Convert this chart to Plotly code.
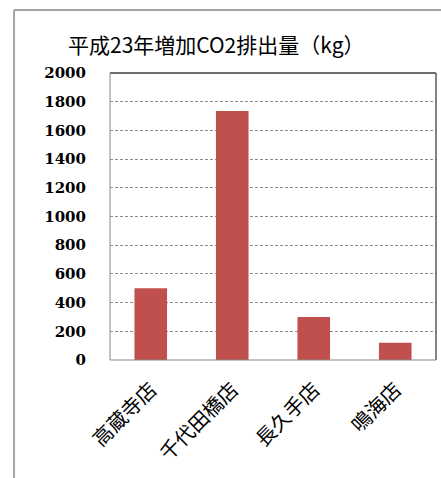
import plotly.graph_objects as go

categories = ["高蔵寺店", "千代田橋店", "長久手店", "鳴海店"]
values = [500, 1735, 300, 120]
y_ticks = [0, 200, 400, 600, 800, 1000, 1200, 1400, 1600, 1800, 2000]
title_text = "平成23年増加CO2排出量（kg）"

W, H = 441, 478
L, R, T, B = 110, 5, 73, 118
pw, ph = W - L - R, H - T - B

def px_x(x):
    return (x - L) / pw

def px_y(y):
    return (H - B - y) / ph

fig = go.Figure()
fig.add_trace(go.Bar(
    x=categories, y=values,
    marker=dict(color="#C0504D", line=dict(width=0)),
    width=0.4,
))

fig.update_layout(
    width=W, height=H,
    margin=dict(l=L, r=R, t=T, b=B),
    paper_bgcolor="white", plot_bgcolor="white",
    showlegend=False,
    xaxis=dict(
        tickangle=-45, tickfont=dict(size=20, color="#000000", family="Noto Sans CJK JP, sans-serif"),
        showgrid=False, zeroline=False, showline=False, ticks="", ticklabelstandoff=13,
    ),
    yaxis=dict(
        range=[0, 2000], tickvals=y_ticks,
        ticktext=["<b>%d</b>" % v for v in y_ticks],
        tickfont=dict(size=15, color="#000", family="DejaVu Serif, serif"),
        showgrid=True, gridcolor="#8c8c8c", griddash="3px,2px", gridwidth=1,
        zeroline=False, showline=False, ticks="", ticklabelstandoff=23,
    ),
    annotations=[dict(
        text=title_text, xref="paper", yref="paper",
        x=px_x(66), y=px_y(44), xanchor="left", yanchor="middle",
        showarrow=False, font=dict(size=21, color="#000", family="Noto Sans CJK JP, sans-serif"),
    )],
    shapes=[
        # outer frame
        dict(type="line", xref="paper", yref="paper", x0=px_x(14), x1=px_x(14), y0=px_y(478), y1=px_y(10),
             line=dict(color="#a6a6a6", width=2)),
        dict(type="line", xref="paper", yref="paper", x0=px_x(14), x1=px_x(445), y0=px_y(10), y1=px_y(10),
             line=dict(color="#a6a6a6", width=2)),
        # plot box
        dict(type="line", xref="paper", yref="paper", x0=0, x1=1, y0=1, y1=1, line=dict(color="#3c3c3c", width=1.5)),
        dict(type="line", xref="paper", yref="paper", x0=1, x1=1, y0=0, y1=1, line=dict(color="#5a5a5a", width=1.5)),
        dict(type="line", xref="paper", yref="paper", x0=0, x1=0, y0=0, y1=1, line=dict(color="#999999", width=1.2)),
        dict(type="line", xref="paper", yref="paper", x0=0, x1=1, y0=0, y1=0, line=dict(color="#888888", width=1.2)),
    ],
)

fig.write_html("out.html")
